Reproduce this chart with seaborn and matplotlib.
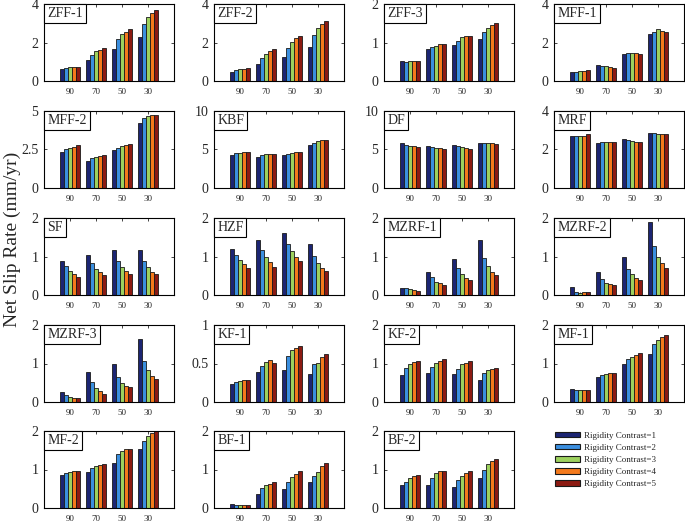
import pandas as pd
import matplotlib
matplotlib.use("Agg")
import matplotlib.pyplot as plt
import matplotlib.patches as mpatches
import seaborn as sns

# ---------------------------------------------
# Data
# rows = dip angle groups (90, 70, 50, 30), cols = rigidity contrast 1..5
# ---------------------------------------------
ANGLES = ["90", "70", "50", "30"]
CONTRASTS = ["Rigidity Contrast=1", "Rigidity Contrast=2", "Rigidity Contrast=3",
             "Rigidity Contrast=4", "Rigidity Contrast=5"]

ZFF_1 = [[0.61, 0.70, 0.73, 0.73, 0.73], [1.08, 1.37, 1.55, 1.63, 1.70],
         [1.65, 2.17, 2.42, 2.57, 2.70], [2.26, 2.96, 3.30, 3.53, 3.69]]
ZFF_2 = [[0.47, 0.56, 0.61, 0.64, 0.68], [0.87, 1.17, 1.41, 1.55, 1.65],
         [1.27, 1.74, 2.03, 2.21, 2.35], [1.79, 2.38, 2.73, 2.94, 3.10]]
ZFF_3 = [[0.51, 0.50, 0.51, 0.52, 0.51], [0.83, 0.89, 0.92, 0.95, 0.97],
         [0.94, 1.03, 1.15, 1.16, 1.18], [1.09, 1.28, 1.38, 1.45, 1.50]]
MFF_1 = [[0.47, 0.47, 0.50, 0.54, 0.57], [0.82, 0.80, 0.77, 0.73, 0.70],
         [1.39, 1.44, 1.44, 1.43, 1.39], [2.43, 2.57, 2.68, 2.61, 2.54]]
MFF_2 = [[2.35, 2.50, 2.61, 2.67, 2.76], [1.78, 1.93, 2.04, 2.11, 2.15],
         [2.46, 2.61, 2.72, 2.78, 2.83], [4.20, 4.57, 4.70, 4.74, 4.76]]
KBF = [[4.26, 4.52, 4.61, 4.70, 4.70], [4.04, 4.26, 4.39, 4.48, 4.48],
       [4.26, 4.48, 4.61, 4.65, 4.65], [5.52, 5.87, 6.09, 6.17, 6.17]]
DF = [[5.78, 5.57, 5.48, 5.39, 5.30], [5.39, 5.26, 5.17, 5.13, 5.09],
      [5.57, 5.43, 5.30, 5.17, 5.09], [5.83, 5.83, 5.83, 5.78, 5.74]]
MRF = [[2.70, 2.70, 2.70, 2.71, 2.83], [2.35, 2.37, 2.38, 2.38, 2.38],
       [2.54, 2.47, 2.42, 2.38, 2.37], [2.85, 2.85, 2.83, 2.82, 2.80]]
SF = [[0.89, 0.75, 0.63, 0.54, 0.48], [1.04, 0.83, 0.68, 0.59, 0.52],
      [1.16, 0.89, 0.73, 0.62, 0.54], [1.18, 0.89, 0.72, 0.59, 0.54]]
HZF = [[1.20, 1.04, 0.91, 0.81, 0.71], [1.44, 1.18, 0.99, 0.86, 0.73],
       [1.60, 1.33, 1.14, 0.99, 0.89], [1.33, 1.01, 0.82, 0.69, 0.62]]
MZRF_1 = [[0.18, 0.18, 0.15, 0.12, 0.10], [0.60, 0.46, 0.35, 0.30, 0.25],
          [0.94, 0.70, 0.55, 0.44, 0.38], [1.42, 0.95, 0.75, 0.60, 0.53]]
MZRF_2 = [[0.21, 0.09, 0.06, 0.07, 0.07], [0.61, 0.41, 0.32, 0.28, 0.25],
          [0.99, 0.68, 0.54, 0.44, 0.39], [1.89, 1.26, 0.98, 0.82, 0.69]]
MZRF_3 = [[0.26, 0.19, 0.13, 0.11, 0.11], [0.77, 0.51, 0.37, 0.28, 0.22],
          [0.98, 0.64, 0.50, 0.42, 0.38], [1.63, 1.07, 0.82, 0.68, 0.60]]
KF_1 = [[0.24, 0.26, 0.27, 0.28, 0.29], [0.39, 0.47, 0.52, 0.54, 0.51],
        [0.42, 0.60, 0.67, 0.70, 0.73], [0.37, 0.50, 0.51, 0.59, 0.62]]
KF_2 = [[0.70, 0.88, 0.98, 1.03, 1.07], [0.75, 0.90, 1.02, 1.07, 1.12],
        [0.72, 0.86, 0.99, 1.01, 1.07], [0.57, 0.76, 0.83, 0.86, 0.89]]
MF_1 = [[0.34, 0.30, 0.30, 0.30, 0.30], [0.64, 0.71, 0.74, 0.75, 0.76],
        [0.98, 1.11, 1.18, 1.22, 1.26], [1.25, 1.51, 1.61, 1.68, 1.73]]
MF_2 = [[0.86, 0.91, 0.94, 0.96, 0.97], [0.93, 1.03, 1.08, 1.11, 1.13],
        [1.18, 1.39, 1.47, 1.52, 1.54], [1.52, 1.75, 1.86, 1.95, 2.00]]
BF_1 = [[0.10, 0.08, 0.08, 0.08, 0.08], [0.37, 0.52, 0.59, 0.63, 0.67],
        [0.49, 0.68, 0.81, 0.89, 0.95], [0.67, 0.82, 0.94, 1.09, 1.16]]
BF_2 = [[0.61, 0.68, 0.79, 0.83, 0.86], [0.61, 0.77, 0.92, 0.97, 0.96],
        [0.54, 0.72, 0.83, 0.92, 0.97], [0.77, 0.99, 1.14, 1.23, 1.28]]

PANEL_NAMES = ["ZFF-1", "ZFF-2", "ZFF-3", "MFF-1", "MFF-2", "KBF", "DF", "MRF",
               "SF", "HZF", "MZRF-1", "MZRF-2", "MZRF-3", "KF-1", "KF-2", "MF-1",
               "MF-2", "BF-1", "BF-2"]
PANEL_VALUES = [ZFF_1, ZFF_2, ZFF_3, MFF_1, MFF_2, KBF, DF, MRF, SF, HZF,
                MZRF_1, MZRF_2, MZRF_3, KF_1, KF_2, MF_1, MF_2, BF_1, BF_2]
Y_MAX = [4, 4, 2, 4, 5, 10, 10, 4, 2, 2, 2, 2, 2, 1, 2, 2, 2, 2, 2]

# ---------------------------------------------
# Style
# ---------------------------------------------
COLORS = ["#1c2573", "#3b8fdf", "#9dd15e", "#f47a1c", "#8c1a12"]
EDGE = "#1a1a1a"
SERIF = ["Liberation Serif", "DejaVu Serif"]

sns.set_style("white")
plt.rcParams["font.family"] = SERIF
plt.rcParams["axes.linewidth"] = 0.8

W, H = 685, 522
fig = plt.figure(figsize=(W / 100, H / 100), dpi=100)

COL_LEFT = [44, 214, 384, 554]
ROW_BOTTOM = [81, 188, 295, 402, 508]
AX_W, AX_H = 130, 77


def long_frame(values):
    rows = []
    for angle, group in zip(ANGLES, values):
        for contrast, v in zip(CONTRASTS, group):
            rows.append({"angle": angle, "contrast": contrast, "rate": v})
    return pd.DataFrame(rows)


for i, (name, values, ymax) in enumerate(zip(PANEL_NAMES, PANEL_VALUES, Y_MAX)):
    r, c = divmod(i, 4)
    ax = fig.add_axes([COL_LEFT[c] / W, 1 - ROW_BOTTOM[r] / H, AX_W / W, AX_H / H])
    sns.barplot(data=long_frame(values), x="angle", y="rate", hue="contrast",
                order=ANGLES, hue_order=CONTRASTS, palette=COLORS,
                saturation=1, width=0.8, errorbar=None, legend=False,
                edgecolor=EDGE, linewidth=0.6, ax=ax)
    ax.set_xlim(-1, 4)
    ax.set_ylim(0, ymax)
    ticks = [0, ymax / 2, ymax]
    ax.set_yticks(ticks)
    ax.set_yticklabels([f"{t:g}" for t in ticks])
    ax.set_xlabel("")
    ax.set_ylabel("")
    for s in ax.spines.values():
        s.set_color("black")
        s.set_linewidth(0.8)
    ax.tick_params(axis="x", direction="in", length=2.5, width=0.6,
                   top=True, bottom=True, labelsize=6.5, pad=5)
    ax.tick_params(axis="y", direction="in", length=2.5, width=0.6,
                   left=True, right=True, labelsize=10, pad=4)
    ax.annotate(name, xy=(0, 1), xycoords="axes fraction", xytext=(2.2, -2.2),
                textcoords="offset points", ha="left", va="top", fontsize=10,
                bbox=dict(boxstyle="square,pad=0.22", fc="white", ec="black", lw=0.8))

fig.text(0.018, 0.542, "Net Slip Rate (mm/yr)", rotation=90, ha="center",
         va="center", fontsize=14)

handles = [mpatches.Patch(facecolor=col, edgecolor=EDGE, linewidth=0.8)
           for col in COLORS]
fig.legend(handles, CONTRASTS, loc="upper left",
           bbox_to_anchor=(551 / W, 1 - 428 / H), frameon=False, fontsize=6.5,
           handlelength=2.8, handleheight=0.6, handletextpad=0.5,
           labelspacing=0.45, borderaxespad=0)

fig.savefig("out.png", dpi=100)
